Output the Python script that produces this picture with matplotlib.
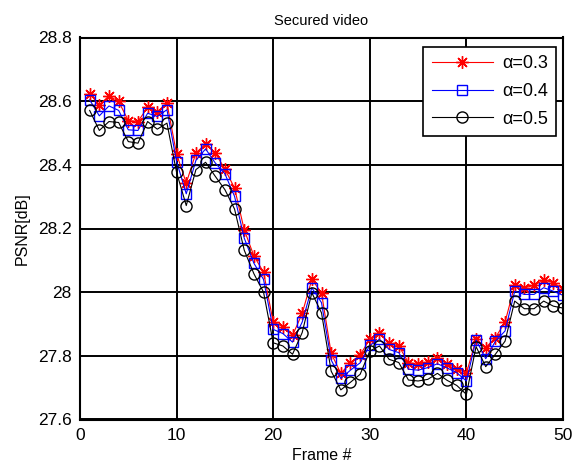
import matplotlib
matplotlib.use('Agg')
import matplotlib.pyplot as plt
from matplotlib.ticker import FormatStrFormatter

frames = list(range(1, 51))

psnr_03 = [28.623, 28.588, 28.617, 28.599, 28.539, 28.536, 28.581, 28.567, 28.594, 28.434,
           28.343, 28.437, 28.466, 28.437, 28.387, 28.327, 28.196, 28.114, 28.063, 27.906,
           27.892, 27.864, 27.933, 28.040, 27.998, 27.808, 27.745, 27.778, 27.803, 27.852,
           27.873, 27.839, 27.831, 27.779, 27.773, 27.781, 27.792, 27.775, 27.760, 27.745,
           27.852, 27.826, 27.857, 27.906, 28.021, 28.014, 28.021, 28.038, 28.030, 28.010]
psnr_04 = [28.604, 28.554, 28.585, 28.571, 28.510, 28.508, 28.562, 28.552, 28.573, 28.410,
           28.309, 28.414, 28.450, 28.406, 28.372, 28.301, 28.170, 28.091, 28.040, 27.883,
           27.870, 27.843, 27.906, 28.014, 27.967, 27.787, 27.729, 27.755, 27.778, 27.833,
           27.852, 27.820, 27.810, 27.758, 27.755, 27.763, 27.775, 27.762, 27.747, 27.721,
           27.850, 27.791, 27.846, 27.878, 28.003, 27.993, 27.993, 28.014, 28.003, 27.990]
psnr_05 = [28.571, 28.508, 28.536, 28.533, 28.473, 28.468, 28.536, 28.512, 28.531, 28.376,
           28.272, 28.385, 28.408, 28.364, 28.322, 28.261, 28.132, 28.058, 28.000, 27.841,
           27.831, 27.805, 27.873, 27.998, 27.935, 27.752, 27.693, 27.717, 27.742, 27.815,
           27.831, 27.789, 27.779, 27.724, 27.721, 27.726, 27.745, 27.723, 27.707, 27.679,
           27.829, 27.766, 27.805, 27.846, 27.972, 27.948, 27.948, 27.972, 27.956, 27.950]

labels = ['\u03b1=0.3', '\u03b1=0.4', '\u03b1=0.5']
xticks = [0, 10, 20, 30, 40, 50]
yticks = [27.6, 27.8, 28.0, 28.2, 28.4, 28.6, 28.8]

plt.rcParams['font.family'] = ['Liberation Sans', 'DejaVu Sans']

fig = plt.figure(figsize=(5.73, 4.70), dpi=100)
ax = fig.add_axes([80 / 573, 1 - 419.5 / 470, 483 / 573, 382 / 470])

# matlab style '*' marker: plus and cross together
ax.plot(frames, psnr_03, color='red', marker=(8, 2, 0), markersize=9, linewidth=0.8,
        markeredgewidth=1.0, label=labels[0])
ax.plot(frames, psnr_04, color='blue', marker='s', markersize=7.5, linewidth=0.8,
        markerfacecolor='none', markeredgewidth=1.0, label=labels[1])
ax.plot(frames, psnr_05, color='black', marker='o', markersize=8, linewidth=0.8,
        markerfacecolor='none', markeredgewidth=1.0, label=labels[2])

ax.set_xlim(0, 50)
ax.set_ylim(27.6, 28.8)
ax.set_xticks(xticks)
ax.set_yticks(yticks)
ax.yaxis.set_major_formatter(FormatStrFormatter('%g'))
ax.grid(True, color='black', linewidth=1.4, linestyle='-')
ax.tick_params(direction='in', length=0, labelsize=12.5, pad=6)
for sp in ax.spines.values():
    sp.set_linewidth(1.5)

ax.set_title('Secured video', fontsize=10.5, pad=9)
ax.set_xlabel('Frame #', fontsize=11.5, labelpad=4)
ax.set_ylabel('PSNR[dB]', fontsize=11.5, labelpad=6)

leg = ax.legend(loc='upper right', bbox_to_anchor=(556 / 573, 1 - 47 / 470),
                bbox_transform=fig.transFigure, fancybox=False, framealpha=1,
                edgecolor='black', fontsize=13, handlelength=3.4, borderaxespad=0,
                labelspacing=0.6, handletextpad=0.5, borderpad=0.45)
leg.get_frame().set_linewidth(1.2)

fig.savefig('out.png', dpi=100)
